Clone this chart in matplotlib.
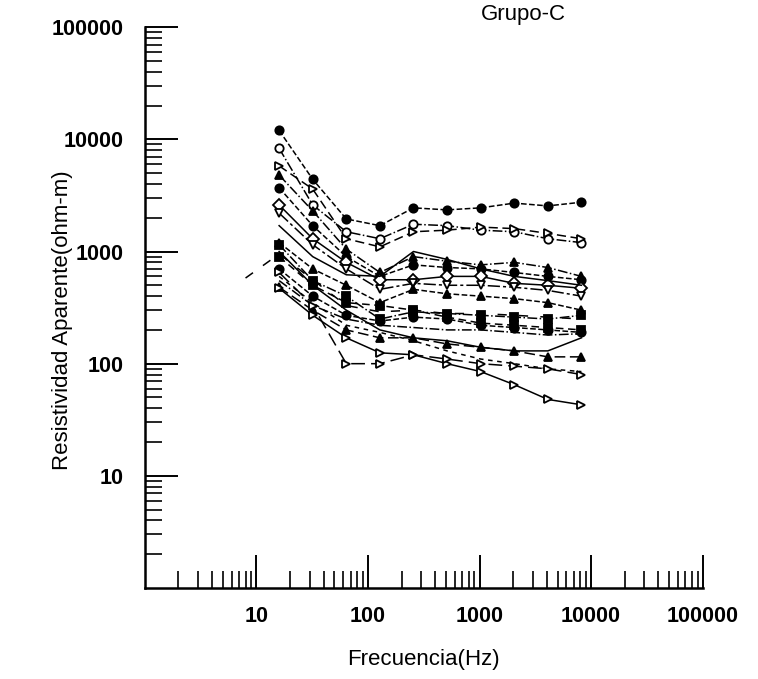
import matplotlib
matplotlib.use("Agg")
import matplotlib.pyplot as plt
from matplotlib.ticker import LogLocator, NullFormatter, FixedFormatter, FixedLocator

plt.rcParams['font.family'] = ['Liberation Sans', 'DejaVu Sans']

# frecuencias (Hz)
freqs = [16, 32, 64, 128, 256, 512, 1024, 2048, 4096, 8192]
freqs_8 = [8, 16, 32, 64, 128, 256, 512, 1024, 2048, 4096, 8192]

# resistividad aparente (ohm-m)
s01 = [12000, 4400, 1950, 1700, 2450, 2350, 2450, 2700, 2550, 2750]
s02 = [8300, 2600, 1500, 1300, 1750, 1700, 1550, 1500, 1300, 1200]
s03 = [5800, 3600, 1300, 1100, 1500, 1550, 1650, 1600, 1450, 1300]
s04 = [4800, 2300, 1050, 650, 900, 820, 760, 800, 720, 600]
s05 = [3700, 1700, 900, 600, 760, 720, 700, 650, 600, 560]
s06 = [2600, 1300, 800, 560, 560, 600, 600, 520, 500, 470]
s07 = [2200, 1150, 700, 460, 520, 500, 500, 480, 450, 400]
s08 = [1700, 900, 620, 600, 1000, 850, 700, 600, 550, 500]
s09 = [1200, 700, 500, 350, 460, 420, 400, 380, 350, 300]
s10 = [1150, 550, 400, 250, 290, 280, 270, 260, 250, 270]
s11 = [900, 500, 350, 330, 300, 260, 230, 220, 210, 200]
s12 = [700, 400, 270, 240, 260, 250, 220, 210, 200, 190]
s13 = [550, 330, 250, 220, 210, 200, 200, 190, 180, 185]
s14 = [480, 300, 200, 170, 170, 150, 140, 130, 115, 115]
s15 = [600, 350, 220, 190, 160, 130, 110, 100, 90, 85]
s16 = [470, 270, 170, 125, 120, 100, 85, 65, 48, 43]
s17 = [1000, 500, 300, 200, 170, 160, 140, 130, 130, 170]
s18 = [650, 330, 100, 100, 120, 110, 100, 95, 90, 80]
s19 = [580, 950, 560, 330, 290, 300, 280, 280, 270, 260, 250]

series = [s01, s02, s03, s04, s05, s06, s07, s08, s09, s10,
          s11, s12, s13, s14, s15, s16, s17, s18]
markers = ['o', 'o', '>', '^', 'o', 'D', 'v', None, '^', 's',
           's', 'o', None, '^', None, '>', None, '>']
filled = [True, False, False, True, True, False, False, True, True, True,
          True, True, True, True, True, False, True, False]
styles = ['--', '-.', (0, (6, 3)), '-.', '--', '-', (0, (8, 2, 2, 2)), '-', '--', '-.',
          (0, (5, 3)), '--', '-.', (0, (7, 3)), (0, (3, 3)), '-', '-', (0, (9, 4))]

fig = plt.figure(figsize=(7.58, 6.79), dpi=100)
ax = fig.add_axes([0.191, 0.134, 0.736, 0.826])

for vals, mk, fl, ls in zip(series, markers, filled, styles):
    ax.plot(freqs, vals, color='black', lw=1.1, linestyle=ls, marker=mk,
            markersize=6, markerfacecolor='black' if fl else 'white',
            markeredgecolor='black', markeredgewidth=1.3)
ax.plot(freqs_8, s19, color='black', lw=1.1, linestyle=(0, (6, 8)))

ax.set_xscale('log')
ax.set_yscale('log')
ax.set_xlim(1, 100000)
ax.set_ylim(1, 100000)

for s in ['top', 'right']:
    ax.spines[s].set_visible(False)
for s in ['left', 'bottom']:
    ax.spines[s].set_linewidth(1.8)

xt = [10, 100, 1000, 10000, 100000]
xl = ['10', '100', '1000', '10000', '100000']
yt = [10, 100, 1000, 10000, 100000]
yl = ['10', '100', '1000', '10000', '100000']
ax.xaxis.set_major_locator(FixedLocator(xt))
ax.xaxis.set_major_formatter(FixedFormatter(xl))
ax.yaxis.set_major_locator(FixedLocator(yt))
ax.yaxis.set_major_formatter(FixedFormatter(yl))
ax.xaxis.set_minor_locator(LogLocator(base=10, subs=range(2, 10)))
ax.yaxis.set_minor_locator(LogLocator(base=10, subs=range(2, 10)))
ax.xaxis.set_minor_formatter(NullFormatter())
ax.yaxis.set_minor_formatter(NullFormatter())

ax.tick_params(which='major', direction='in', length=24, width=1.4,
               labelsize=15.5)
ax.tick_params(which='minor', direction='in', length=12, width=1.2)
ax.tick_params(axis='x', which='major', pad=13)
ax.tick_params(axis='y', which='major', pad=15)
for lab in ax.get_xticklabels() + ax.get_yticklabels():
    lab.set_fontweight('bold')

fig.text(0.559, 0.028, 'Frecuencia(Hz)', fontsize=16, ha='center', va='center')
fig.text(0.082, 0.529, 'Resistividad Aparente(ohm-m)', fontsize=16,
         rotation=90, ha='center', va='center')
fig.text(0.690, 0.978, 'Grupo-C', fontsize=16, ha='center', va='center')

fig.savefig('out.png', dpi=100)
